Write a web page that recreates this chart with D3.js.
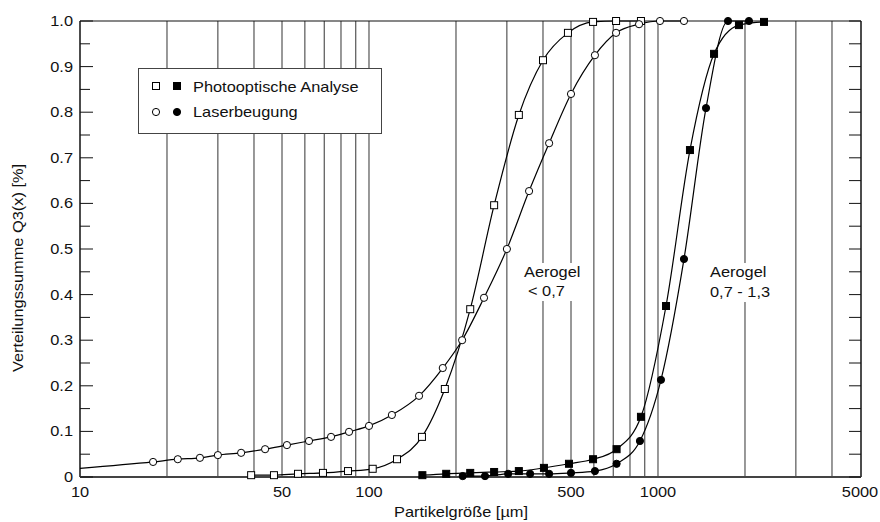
<!DOCTYPE html>
<html>
<head>
<meta charset="utf-8">
<script src="https://cdn.jsdelivr.net/npm/d3@7"></script>
<style>
  html, body { margin: 0; padding: 0; background: #fff; }
  svg { display: block; }
  text { font-family: "Liberation Sans", Arial, Helvetica, sans-serif; font-size: 14px; fill: #111; }
</style>
</head>
<body>
<svg id="chart" width="880" height="522"></svg>
<script>
// ---------- data ----------
const xTickLabels = [10, 50, 100, 500, 1000, 5000];
const gridValues = [20, 30, 40, 50, 60, 70, 80, 90, 100, 200, 300, 400, 500, 600, 700, 800, 900, 1000, 2000, 3000, 4000];
const yTickLabels = ["0", "0.1", "0.2", "0.3", "0.4", "0.5", "0.6", "0.7", "0.8", "0.9", "1.0"];
const yTickValues = [0, 0.1, 0.2, 0.3, 0.4, 0.5, 0.6, 0.7, 0.8, 0.9, 1.0];

// Photooptische Analyse, Aerogel < 0,7 (open squares)
const photoFineX = [39.1, 46.9, 56.8, 69.3, 84.6, 103, 125, 152.5, 183, 224, 271, 330, 400, 488, 596, 716, 873];
const photoFineY = [0.004, 0.004, 0.007, 0.009, 0.013, 0.018, 0.039, 0.088, 0.193, 0.368, 0.596, 0.794, 0.914, 0.974, 0.998, 1.0, 1.0];

// Laserbeugung, Aerogel < 0,7 (open circles)
const laserFineX = [17.9, 21.8, 26.0, 30.0, 36.1, 43.7, 52.0, 62.0, 73.9, 85.3, 100, 120, 149, 180, 210, 250, 300, 358, 420, 500, 605, 716, 860, 1016, 1230];
const laserFineY = [0.033, 0.039, 0.042, 0.048, 0.053, 0.061, 0.070, 0.079, 0.088, 0.099, 0.112, 0.136, 0.178, 0.239, 0.300, 0.393, 0.500, 0.627, 0.732, 0.840, 0.925, 0.974, 0.993, 1.0, 1.0];
// curve continues to the left edge without a marker
const laserFineCurveStartX = 10;
const laserFineCurveStartY = 0.019;

// Photooptische Analyse, Aerogel 0,7 - 1,3 (filled squares)
const photoCoarseX = [153, 185, 224, 271, 330, 403, 492, 596, 719, 873, 1066, 1290, 1563, 1906, 2327];
const photoCoarseY = [0.004, 0.007, 0.009, 0.011, 0.013, 0.020, 0.029, 0.039, 0.061, 0.132, 0.375, 0.717, 0.928, 0.991, 0.998];

// Laserbeugung, Aerogel 0,7 - 1,3 (filled circles)
const laserCoarseX = [211, 252, 303, 361, 420, 500, 605, 719, 866, 1024, 1230, 1466, 1747, 2064];
const laserCoarseY = [0.002, 0.002, 0.007, 0.007, 0.007, 0.009, 0.013, 0.029, 0.079, 0.213, 0.478, 0.809, 1.0, 1.0];

const legendLabels = ["Photooptische Analyse", "Laserbeugung"];
const annotFine = ["Aerogel", "< 0,7"];
const annotCoarse = ["Aerogel", "0,7 - 1,3"];
const xTitle = "Partikelgröße [µm]";
const yTitle = "Verteilungssumme Q3(x) [%]";

// ---------- layout ----------
const L = 80, R = 860, T = 21, B = 477;
const SX = 1.17; // horizontal text stretch seen in the reference

const svg = d3.select("#chart");
const x = d3.scaleLog().domain([10, 5000]).range([L, R]);
const y = d3.scaleLinear().domain([0, 1]).range([B, T]);

function txt(parent, px, py, str, anchor, extra) {
  const t = parent.append("text")
    .attr("transform", `translate(${px},${py})` + (extra || "") + ` scale(${SX},1)`)
    .attr("text-anchor", anchor || "start")
    .text(str);
  return t;
}

// grid lines
svg.append("g").selectAll("line").data(gridValues).join("line")
  .attr("x1", d => x(d)).attr("x2", d => x(d))
  .attr("y1", T).attr("y2", B)
  .attr("stroke", "#333").attr("stroke-width", 1);

// frame
svg.append("line").attr("x1", L).attr("x2", R + 1).attr("y1", T).attr("y2", T).attr("stroke", "#111").attr("stroke-width", 1.2);
svg.append("line").attr("x1", L).attr("x2", L).attr("y1", T).attr("y2", B).attr("stroke", "#111").attr("stroke-width", 1.5);
svg.append("line").attr("x1", R + 1).attr("x2", R + 1).attr("y1", T).attr("y2", B).attr("stroke", "#111").attr("stroke-width", 1.5);
svg.append("line").attr("x1", L).attr("x2", R + 1).attr("y1", B).attr("y2", B).attr("stroke", "#444").attr("stroke-width", 2);

// y ticks (left: major/minor inward, right: all inward)
const halfSteps = d3.range(0, 21).map(i => i / 20);
svg.append("g").selectAll("line").data(halfSteps).join("line")
  .attr("x1", L).attr("x2", (d, i) => L + (i % 2 === 0 ? 13 : 10))
  .attr("y1", d => y(d)).attr("y2", d => y(d))
  .attr("stroke", "#111").attr("stroke-width", 1);
svg.append("g").selectAll("line").data(halfSteps).join("line")
  .attr("x1", R + 1).attr("x2", R + 1 - 12)
  .attr("y1", d => y(d)).attr("y2", d => y(d))
  .attr("stroke", "#111").attr("stroke-width", 1);

// y tick labels
const gy = svg.append("g");
yTickValues.forEach((v, i) => txt(gy, 73, y(v) + 5, yTickLabels[i], "end"));
// x tick labels
const gx = svg.append("g");
xTickLabels.forEach(v => txt(gx, x(v), 497, String(v), "middle"));

// axis titles
txt(svg, 461, 517, xTitle, "middle");
txt(svg, 23, 268, yTitle, "middle", " rotate(-90)");

// annotations with white background
function annot(lines, px, baselines) {
  const g = svg.append("g");
  const bg = g.append("rect").attr("fill", "#fff");
  const ts = lines.map((s, i) => txt(g, px[i], baselines[i], s, "start"));
  const boxes = ts.map(t => t.node().getBBox());
  let x0 = Infinity, x1 = -Infinity;
  ts.forEach((t, i) => {
    const w = boxes[i].width * SX;
    x0 = Math.min(x0, px[i]); x1 = Math.max(x1, px[i] + w);
  });
  const y0 = baselines[0] - 14, y1 = baselines[baselines.length - 1] + 5;
  bg.attr("x", x0 - 2).attr("y", y0).attr("width", x1 - x0 + 4).attr("height", y1 - y0);
}
annot(annotFine, [524, 528], [277, 296]);
annot(annotCoarse, [710, 710], [277, 297]);

// curves
const line = d3.line().x(d => x(d[0])).y(d => y(d[1])).curve(d3.curveMonotoneX);
const zip = (xs, ys) => xs.map((v, i) => [v, ys[i]]);
const series = [
  { pts: zip(photoFineX, photoFineY), curve: zip(photoFineX, photoFineY), shape: "square", fill: "#fff" },
  { pts: zip(laserFineX, laserFineY), curve: [[laserFineCurveStartX, laserFineCurveStartY]].concat(zip(laserFineX, laserFineY)), shape: "circle", fill: "#fff" },
  { pts: zip(photoCoarseX, photoCoarseY), curve: zip(photoCoarseX, photoCoarseY), shape: "square", fill: "#000" },
  { pts: zip(laserCoarseX, laserCoarseY), curve: zip(laserCoarseX, laserCoarseY), shape: "circle", fill: "#000" }
];
series.forEach(s => {
  svg.append("path").attr("d", line(s.curve)).attr("fill", "none")
    .attr("stroke", "#000").attr("stroke-width", 1.2);
});
function marker(g, cx, cy, shape, fill) {
  if (shape === "square") {
    g.append("rect").attr("x", cx - 3.5).attr("y", cy - 3.5).attr("width", 7).attr("height", 7)
      .attr("fill", fill).attr("stroke", "#000").attr("stroke-width", 1);
  } else {
    g.append("circle").attr("cx", cx).attr("cy", cy).attr("r", 3.6)
      .attr("fill", fill).attr("stroke", "#000").attr("stroke-width", 1);
  }
}
series.forEach(s => {
  const g = svg.append("g");
  s.pts.forEach(p => marker(g, x(p[0]), y(p[1]), s.shape, s.fill));
});

// legend
const lg = svg.append("g");
lg.append("rect").attr("x", 138.5).attr("y", 68.5).attr("width", 243).attr("height", 65)
  .attr("fill", "#fff").attr("stroke", "#444").attr("stroke-width", 1);
marker(lg, 156, 86, "square", "#fff");
marker(lg, 177, 86, "square", "#000");
marker(lg, 156, 112, "circle", "#fff");
marker(lg, 177, 112, "circle", "#000");
txt(lg, 193, 92, legendLabels[0], "start");
txt(lg, 193, 117, legendLabels[1], "start");
</script>
</body>
</html>
